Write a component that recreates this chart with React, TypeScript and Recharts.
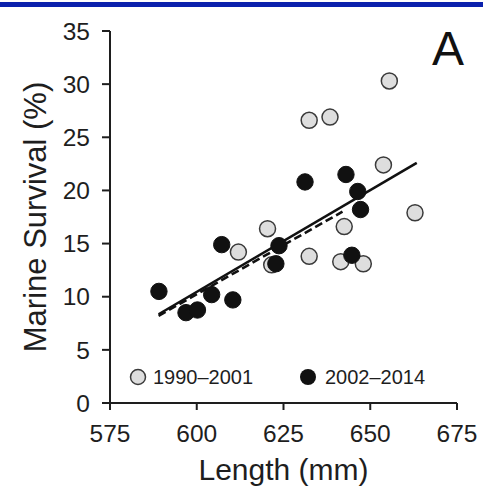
import { ComposedChart, Scatter, XAxis, YAxis, Label } from "recharts"

const FONT = "'Liberation Sans', Arial, sans-serif"
const INK = "#1e1e1e"

// 1990–2001 (open circles)
const earlyLength = [655.5, 632.4, 638.4, 653.8, 662.9, 620.4, 612, 632.4, 642.5, 641.5, 648, 621.6]
const earlySurvival = [30.3, 26.6, 26.9, 22.4, 17.9, 16.4, 14.2, 13.8, 16.6, 13.3, 13.1, 13.0]

// 2002–2014 (filled circles)
const lateLength = [631.2, 643, 646.4, 647.2, 589.1, 596.9, 600.2, 604.3, 610.4, 607.2, 623.7, 622.8, 644.7]
const lateSurvival = [20.8, 21.5, 19.9, 18.2, 10.5, 8.5, 8.75, 10.2, 9.7, 14.9, 14.8, 13.1, 13.9]

// regression lines (end points)
const allFitLength = [589, 663.4]
const allFitSurvival = [8.35, 22.6]
const lateFitLength = [589, 642]
const lateFitSurvival = [8.2, 18.0]

const xTicks = [575, 600, 625, 650, 675]
const yTicks = [0, 5, 10, 15, 20, 25, 30, 35]

const zip = (xs: number[], ys: number[]) => xs.map((x, i) => ({ x, y: ys[i] }))

const earlyData = zip(earlyLength, earlySurvival)
const lateData = zip(lateLength, lateSurvival)
const allFit = zip(allFitLength, allFitSurvival)
const lateFit = zip(lateFitLength, lateFitSurvival)

const openDot = (p: any) => (
  <circle cx={p.cx} cy={p.cy} r={8} fill="#dedede" stroke="#3a3a3a" strokeWidth={1.5} />
)
const filledDot = (p: any) => (
  <circle cx={p.cx} cy={p.cy} r={8.2} fill="#111" stroke="#111" strokeWidth={1} />
)
const noDot = () => <g />

export default function App() {
  return (
    <div style={{ position: "absolute", left: 0, top: 0, width: 483, height: 490, background: "#fff", fontFamily: FONT }}>
      <div style={{ position: "absolute", left: 0, top: 2, width: 483, height: 5, background: "#0b21ad" }} />
      <ComposedChart width={483} height={490} margin={{ top: 31, right: 26, left: 0, bottom: 0 }}>
        <XAxis
          type="number"
          dataKey="x"
          domain={[575, 675]}
          ticks={xTicks}
          height={87}
          tickSize={7}
          tickMargin={15}
          axisLine={{ stroke: INK, strokeWidth: 2 }}
          tickLine={{ stroke: INK, strokeWidth: 2 }}
          tick={{ fill: INK, fontSize: 24.5, fontFamily: FONT }}
        >
          <Label value="Length (mm)" position="insideBottom" offset={10} fill={INK} fontSize={30} fontFamily={FONT} />
        </XAxis>
        <YAxis
          type="number"
          dataKey="y"
          domain={[0, 35]}
          ticks={yTicks}
          width={110}
          tickSize={8}
          tickMargin={12}
          axisLine={{ stroke: INK, strokeWidth: 2 }}
          tickLine={{ stroke: INK, strokeWidth: 2 }}
          tick={{ fill: INK, fontSize: 24.5, fontFamily: FONT }}
        >
          <Label value="Marine Survival (%)" angle={-90} position="center" dx={-20} fill={INK} fontSize={31} fontFamily={FONT} />
        </YAxis>
        <Scatter data={allFit} line={{ stroke: "#111", strokeWidth: 2.6 }} shape={noDot} isAnimationActive={false} />
        <Scatter data={lateFit} line={{ stroke: "#111", strokeWidth: 2.6, strokeDasharray: "8 4" }} shape={noDot} isAnimationActive={false} />
        <Scatter data={earlyData} shape={openDot} isAnimationActive={false} />
        <Scatter data={lateData} shape={filledDot} isAnimationActive={false} />
      </ComposedChart>
      <svg width={483} height={490} style={{ position: "absolute", left: 0, top: 0, pointerEvents: "none" }}>
        <text x={448} y={65} textAnchor="middle" fontSize={48} fill="#111" fontFamily={FONT}>A</text>
        <circle cx={138} cy={377} r={7.5} fill="#dedede" stroke="#3a3a3a" strokeWidth={1.5} />
        <text x={153} y={384} fontSize={20} fill={INK} fontFamily={FONT}>1990–2001</text>
        <circle cx={308} cy={377} r={8} fill="#111" />
        <text x={325} y={384} fontSize={20} fill={INK} fontFamily={FONT}>2002–2014</text>
      </svg>
    </div>
  )
}
